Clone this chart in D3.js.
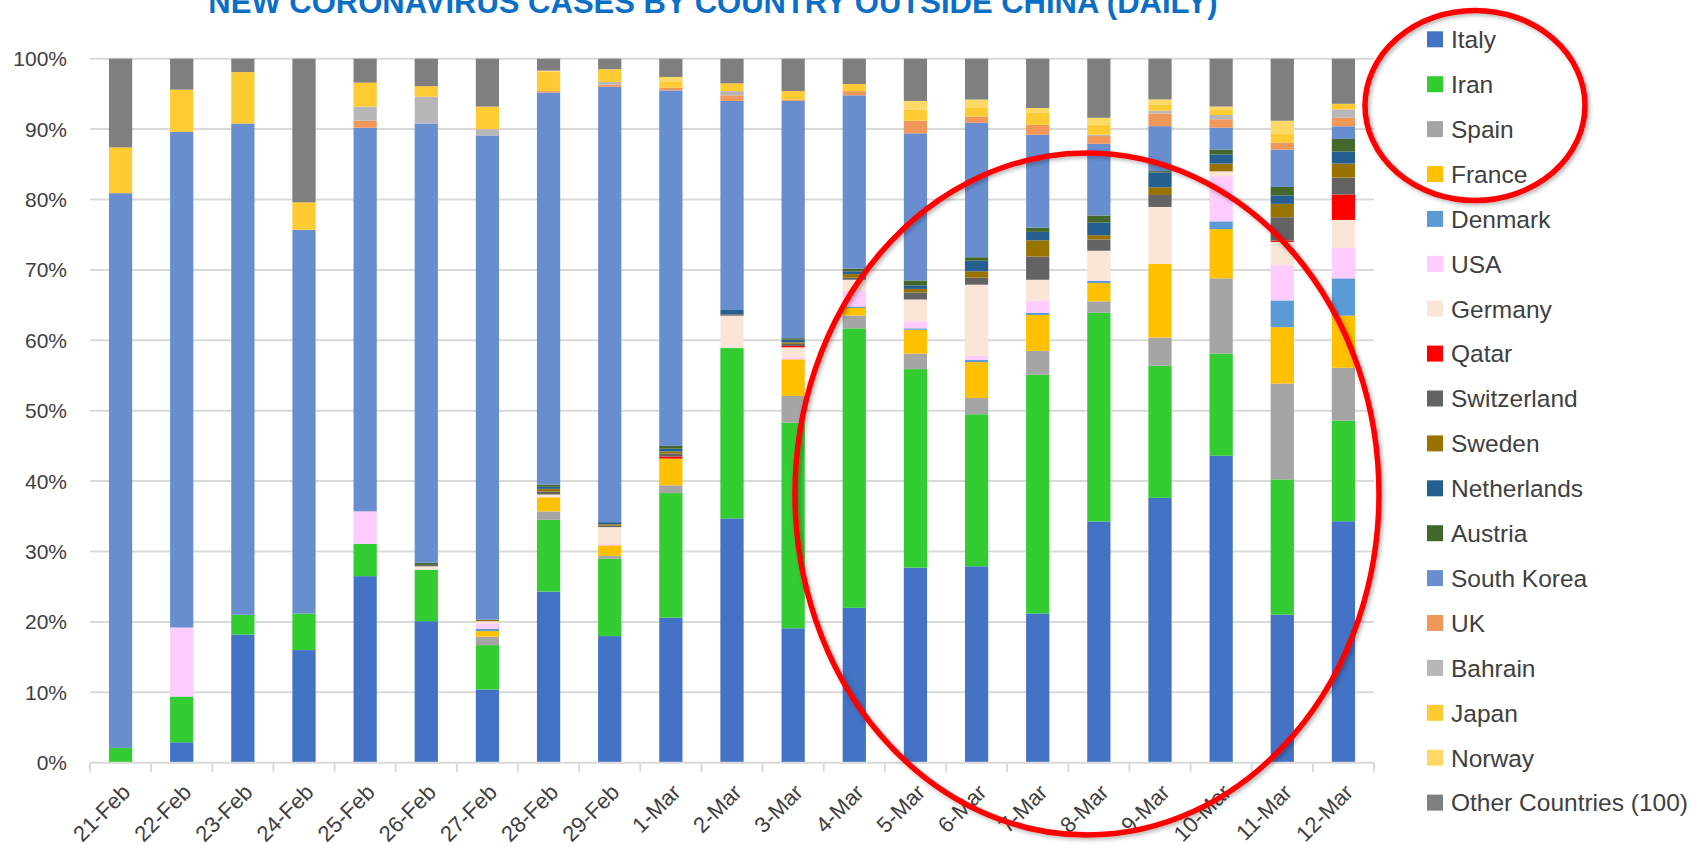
<!DOCTYPE html>
<html>
<head>
<meta charset="utf-8">
<script src="https://cdn.jsdelivr.net/npm/d3@7"></script>
<style>
    body { margin: 0; background: #fff; }
    svg { display: block; font-family: 'Liberation Sans', Arial, sans-serif; }
</style>
</head>
<body>
<div id="chart"></div>
<script>
// Dates on the x axis
const dates = ['21-Feb', '22-Feb', '23-Feb', '24-Feb', '25-Feb', '26-Feb', '27-Feb', '28-Feb', '29-Feb', '1-Mar',
    '2-Mar', '3-Mar', '4-Mar', '5-Mar', '6-Mar', '7-Mar', '8-Mar', '9-Mar', '10-Mar', '11-Mar', '12-Mar']

// Share of daily new cases (%)
const italy = [0, 2.9, 18.2, 16.0, 26.5, 20.1, 10.4, 24.3, 18.0, 20.6, 34.7, 19.1, 22.0, 27.7, 27.9, 21.2, 34.3, 37.7, 43.6, 21.0, 34.3]
const iran = [2.1, 6.5, 2.8, 5.2, 4.6, 7.3, 6.3, 10.2, 11.0, 17.7, 24.2, 29.2, 39.7, 28.2, 21.6, 33.9, 29.7, 18.8, 14.5, 19.2, 14.3]
const spain = [0, 0, 0, 0, 0, 0, 1.2, 1.2, 0.4, 1.1, 0, 3.8, 1.8, 2.2, 2.3, 3.4, 1.6, 4.0, 10.7, 13.6, 7.5]
const france = [0, 0, 0, 0, 0, 0, 0.8, 2.0, 1.5, 3.8, 0, 5.2, 1.1, 3.4, 5.1, 5.1, 2.6, 10.5, 7.0, 8.0, 7.4]
const denmark = [0, 0, 0, 0, 0, 0, 0.3, 0, 0, 0, 0, 0, 0.2, 0.2, 0.3, 0.3, 0.3, 0, 1.1, 3.8, 5.3]
const usa = [0, 9.8, 0, 0, 4.6, 0, 0.8, 0, 0.2, 0, 0, 0.3, 2.2, 1.0, 0.6, 1.7, 0.1, 0, 6.4, 5.0, 4.3]
const germany = [0, 0, 0, 0, 0, 0.5, 0.3, 0.4, 2.4, 0, 4.6, 1.4, 1.6, 3.1, 10.1, 3.0, 4.2, 8.1, 0.7, 3.3, 4.0]
const qatar = [0, 0, 0, 0, 0, 0, 0, 0, 0, 0.3, 0, 0.2, 0, 0, 0, 0, 0, 0, 0, 0.2, 3.6]
const switzerland = [0, 0, 0, 0, 0, 0.2, 0, 0.4, 0.2, 0.4, 0.2, 0.3, 0.3, 1.0, 1.0, 3.3, 1.6, 1.7, 0, 3.3, 2.4]
const sweden = [0, 0, 0, 0, 0, 0, 0.2, 0.4, 0.2, 0.3, 0, 0.2, 0.5, 0.5, 0.9, 2.3, 0.6, 1.1, 1.1, 1.9, 2.0]
const netherlands = [0, 0, 0, 0, 0, 0, 0, 0.3, 0.3, 0.4, 0.6, 0.4, 0.4, 0.5, 1.5, 1.2, 1.8, 2.1, 1.3, 1.2, 1.7]
const austria = [0, 0, 0, 0, 0, 0.3, 0, 0.3, 0, 0.4, 0, 0.2, 0.4, 0.7, 0.5, 0.6, 1.0, 0.2, 0.7, 1.2, 1.8]
const southKorea = [78.8, 70.4, 69.8, 54.5, 54.5, 62.4, 68.8, 55.7, 61.9, 50.5, 29.7, 33.7, 24.6, 20.9, 19.1, 13.2, 10.2, 6.4, 3.1, 5.3, 1.8]
const uk = [0, 0, 0, 0, 1.0, 0, 0, 0.2, 0.3, 0.4, 0.8, 0.2, 0.6, 1.8, 0.9, 1.4, 1.1, 1.8, 1.2, 1.0, 1.2]
const bahrain = [0, 0, 0, 0, 2.0, 3.8, 0.9, 0, 0.4, 0, 0.6, 0, 0, 0, 0, 0, 0.2, 0.4, 0.6, 0, 1.2]
const japan = [6.5, 6.0, 7.3, 3.9, 3.4, 1.5, 3.2, 2.8, 1.8, 0.9, 1.1, 1.2, 1.0, 1.6, 1.2, 1.7, 1.4, 0.9, 0.7, 1.2, 0.8]
const norway = [0, 0, 0, 0, 0, 0, 0, 0.1, 0, 0.6, 0, 0, 0, 1.2, 1.2, 0.7, 1.0, 0.7, 0.5, 1.9, 0]
const other = [12.6, 4.4, 1.9, 20.4, 3.4, 3.9, 6.8, 1.7, 1.5, 2.6, 3.5, 4.6, 3.6, 6.0, 5.8, 7.0, 8.4, 5.8, 6.8, 8.8, 6.4]

const countries = ['Italy', 'Iran', 'Spain', 'France', 'Denmark', 'USA', 'Germany', 'Qatar', 'Switzerland', 'Sweden',
    'Netherlands', 'Austria', 'South Korea', 'UK', 'Bahrain', 'Japan', 'Norway', 'Other Countries (100)']
const seriesValues = [italy, iran, spain, france, denmark, usa, germany, qatar, switzerland, sweden,
    netherlands, austria, southKorea, uk, bahrain, japan, norway, other]
const colors = ['#4472C4', '#33CC33', '#A5A5A5', '#FFC000', '#5B9BD5', '#FFCCFF', '#FBE5D6', '#FF0000', '#636363', '#997300',
    '#255E91', '#43682B', '#698ED0', '#F1975A', '#B7B7B7', '#FFCB33', '#FFD966', '#7F7F7F']
const yTicks = [0, 0.1, 0.2, 0.3, 0.4, 0.5, 0.6, 0.7, 0.8, 0.9, 1]

const title = 'NEW CORONAVIRUS CASES BY COUNTRY OUTSIDE CHINA (DAILY)'

// Build table for d3.stack
const table = dates.map((date, i) => {
    let row = { date: date }
    countries.forEach((c, j) => row[c] = seriesValues[j][i])
    return row
})

const width = 1708, height = 858
const plot = { left: 90, right: 1374, top: 58.7, bottom: 762.7 }
const textColor = '#404040', gridColor = '#D9D9D9'

const svg = d3.select('#chart')
    .append('svg')
        .attr('width', width)
        .attr('height', height)

const defs = svg.append('defs')
defs.append('filter')
    .attr('id', 'shadow')
    .attr('x', '-10%').attr('y', '-10%').attr('width', '120%').attr('height', '120%')
    .append('feDropShadow')
        .attr('dx', 2).attr('dy', 2).attr('stdDeviation', 2)
        .attr('flood-color', '#000').attr('flood-opacity', 0.3)

const x = d3.scaleBand()
    .domain(dates)
    .range([plot.left, plot.right])
    .paddingInner(0.62)
    .paddingOuter(0.31)

const y = d3.scaleLinear()
    .domain([0, 1])
    .range([plot.bottom, plot.top])

const color = d3.scaleOrdinal().domain(countries).range(colors)

// gridlines
svg.append('g')
    .selectAll('line')
    .data(yTicks.slice(1))
    .enter().append('line')
        .attr('x1', plot.left)
        .attr('x2', plot.right)
        .attr('y1', d => y(d))
        .attr('y2', d => y(d))
        .attr('stroke', gridColor)
        .attr('stroke-width', 2)

// y axis labels
svg.append('g')
    .selectAll('text')
    .data(yTicks)
    .enter().append('text')
        .attr('x', 67)
        .attr('y', d => y(d))
        .attr('dy', '0.36em')
        .attr('text-anchor', 'end')
        .attr('fill', textColor)
        .style('font-size', '21px')
        .text(d => d3.format('.0%')(d))

// stacked bars
const stack = d3.stack()
    .keys(countries)
    .offset(d3.stackOffsetExpand)

svg.append('g')
    .selectAll('g')
    .data(stack(table))
    .enter().append('g')
        .attr('fill', d => color(d.key))
    .selectAll('rect')
    .data(d => d)
    .enter().append('rect')
        .attr('x', d => x(d.data.date))
        .attr('width', x.bandwidth())
        .attr('y', d => y(d[1]))
        .attr('height', d => y(d[0]) - y(d[1]))

// x axis line and ticks
const xAxis = svg.append('g')
xAxis.append('line')
    .attr('x1', plot.left)
    .attr('x2', plot.right)
    .attr('y1', y(0))
    .attr('y2', y(0))
    .attr('stroke', gridColor)
    .attr('stroke-width', 2)

xAxis.selectAll('.tick')
    .data(d3.range(dates.length + 1))
    .enter().append('line')
        .attr('class', 'tick')
        .attr('x1', i => plot.left + i * x.step())
        .attr('x2', i => plot.left + i * x.step())
        .attr('y1', y(0))
        .attr('y2', y(0) + 9)
        .attr('stroke', gridColor)
        .attr('stroke-width', 2)

xAxis.selectAll('text')
    .data(dates)
    .enter().append('text')
        .attr('transform', d => `translate(${x(d) + x.bandwidth() / 2 + 11}, ${y(0) + 31}) rotate(-45)`)
        .attr('text-anchor', 'end')
        .attr('fill', textColor)
        .style('font-size', '22px')
        .text(d => d)

// title, cut off at the top like the original
svg.append('text')
    .attr('x', 713)
    .attr('y', 13)
    .attr('text-anchor', 'middle')
    .attr('fill', '#0B6FC6')
    .style('font-size', '31px')
    .style('font-weight', 'bold')
    .text(title)

// legend
const legend = svg.append('g')
    .selectAll('g')
    .data(countries)
    .enter().append('g')
        .attr('transform', (d, i) => `translate(1427, ${39.3 + i * 44.9})`)

legend.append('rect')
    .attr('x', 0)
    .attr('y', -8)
    .attr('width', 16)
    .attr('height', 16)
    .attr('fill', d => color(d))

legend.append('text')
    .attr('x', 24)
    .attr('dy', '0.36em')
    .attr('fill', textColor)
    .style('font-size', '24.5px')
    .text(d => d)

// red highlight ellipses
svg.append('ellipse')
    .attr('cx', 1475)
    .attr('cy', 105.5)
    .attr('rx', 110)
    .attr('ry', 95)
    .attr('fill', 'none')
    .attr('stroke', '#FF0000')
    .attr('stroke-width', 5.5)
    .attr('filter', 'url(#shadow)')

svg.append('ellipse')
    .attr('cx', 1087)
    .attr('cy', 494)
    .attr('rx', 292)
    .attr('ry', 341)
    .attr('fill', 'none')
    .attr('stroke', '#FF0000')
    .attr('stroke-width', 5.5)
    .attr('filter', 'url(#shadow)')
</script>
</body>
</html>
